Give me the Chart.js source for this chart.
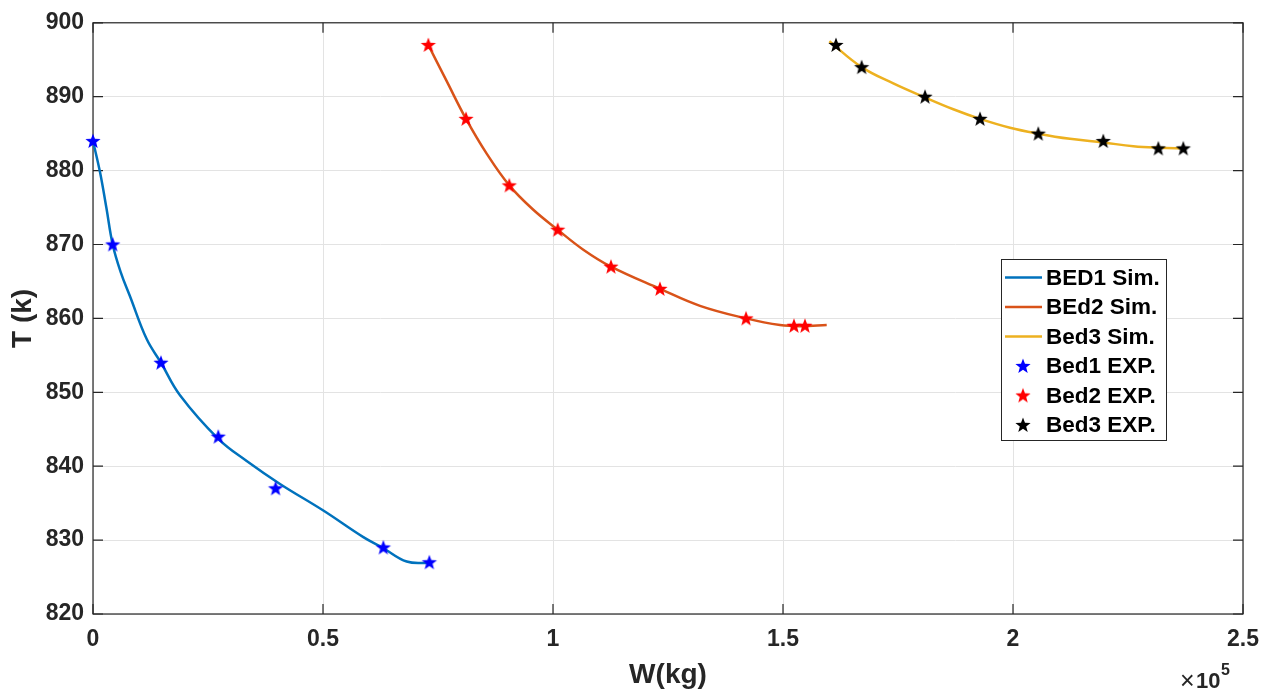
<!DOCTYPE html>
<html>
<head>
<meta charset="utf-8">
<script src="https://cdn.jsdelivr.net/npm/chart.js@4.4.1/dist/chart.umd.min.js"></script>
<style>
  html, body { margin: 0; padding: 0; background: #ffffff; }
  #wrap { width: 1271px; height: 692px; position: relative; }
</style>
</head>
<body>
<div id="wrap"><canvas id="c" width="1271" height="692"></canvas></div>
<script>
// ---------- data ----------
const bed1SimW = [0, 1520, 2900, 4280, 6000, 8040, 11670, 14780, 18910, 27240, 33410, 40650, 50070, 58770, 63120, 68190, 73000];
const bed1SimT = [884, 879.8, 875.0, 870, 866.3, 863.0, 857.2, 854, 849.6, 843.7, 840.7, 837.6, 834.0, 830.4, 828.9, 827.1, 826.9];

const bed2SimW = [72900, 76890, 81090, 85580, 90500, 95720, 101020, 106590, 112600, 123260, 131960, 141960, 149350, 154000, 159500];
const bed2SimT = [897, 892.1, 887, 882.3, 878, 874.7, 872, 869.3, 867, 864, 861.7, 860, 859.1, 858.95, 859.1];

const bed3SimW = [160070, 167100, 173980, 180870, 187020, 192830, 199350, 205500, 212390, 219630, 226160, 231590, 237700];
const bed3SimT = [897.5, 894, 891.8, 889.9, 888.3, 887, 885.8, 885, 884.3, 883.8, 883.3, 883.1, 883.0];

const bed1ExpW = [0, 4280, 14780, 27240, 39700, 63120, 73120];
const bed1ExpT = [884, 870, 854, 844, 837, 829, 827];

const bed2ExpW = [72900, 81090, 90500, 101020, 112600, 123260, 141960, 152390, 154780];
const bed2ExpT = [897, 887, 878, 872, 867, 864, 860, 859, 859];

const bed3ExpW = [161520, 167100, 180870, 192830, 205500, 219630, 231590, 237020];
const bed3ExpT = [897, 894, 890, 887, 885, 884, 883, 883];

const seriesLabels = ['BED1 Sim.', 'BEd2 Sim.', 'Bed3 Sim.', 'Bed1 EXP.', 'Bed2 EXP.', 'Bed3 EXP.'];
const xTickValues = [0, 50000, 100000, 150000, 200000, 250000];
const xTickLabels = ['0', '0.5', '1', '1.5', '2', '2.5'];
const yTickValues = [820, 830, 840, 850, 860, 870, 880, 890, 900];

// ---------- helpers ----------
const FONT = '"Liberation Sans", Arial, Helvetica, sans-serif';
function pts(xs, ys) { return xs.map((x, i) => ({ x: x, y: ys[i] })); }

function starImage(color, R) {
  const s = Math.ceil(R * 2 + 2);
  const cv = document.createElement('canvas');
  cv.width = s; cv.height = s;
  const g = cv.getContext('2d');
  const cx = s / 2, cy = s / 2 + 0.5, r = R * 0.42;
  g.beginPath();
  for (let i = 0; i < 10; i++) {
    const rad = (i % 2 === 0) ? R : r;
    const a = -Math.PI / 2 + i * Math.PI / 5;
    const px = cx + rad * Math.cos(a), py = cy + rad * Math.sin(a);
    if (i === 0) g.moveTo(px, py); else g.lineTo(px, py);
  }
  g.closePath();
  g.fillStyle = color;
  g.fill();
  return cv;
}

const simColors = ['#0072BD', '#D95319', '#EDB120'];
const expColors = ['#0000FF', '#FF0000', '#000000'];
const stars = expColors.map(c => starImage(c, 8));

function simDS(label, data, color) {
  return {
    label: label, data: data, showLine: true, borderColor: color, backgroundColor: color,
    borderWidth: 2.5, pointRadius: 0, pointHoverRadius: 0,
    tension: 0.4, order: 2, clip: false
  };
}
function expDS(label, data, img, color) {
  return {
    label: label, data: data, showLine: false, pointStyle: img,
    borderColor: color, backgroundColor: color, pointRadius: 8, order: 1, clip: false
  };
}

// ---------- plugins ----------
const boxPlugin = {
  id: 'boxPlugin',
  beforeDatasetsDraw(chart) {
    const { ctx, chartArea: a, scales } = chart;
    ctx.save();
    ctx.strokeStyle = '#262626';
    ctx.lineWidth = 1.2;
    ctx.strokeRect(a.left, a.top, a.right - a.left, a.bottom - a.top);
    const tl = 10;
    ctx.beginPath();
    xTickValues.forEach(v => {
      const x = scales.x.getPixelForValue(v);
      ctx.moveTo(x, a.bottom); ctx.lineTo(x, a.bottom - tl);
      ctx.moveTo(x, a.top); ctx.lineTo(x, a.top + tl);
    });
    yTickValues.forEach(v => {
      const y = scales.y.getPixelForValue(v);
      ctx.moveTo(a.left, y); ctx.lineTo(a.left + tl, y);
      ctx.moveTo(a.right, y); ctx.lineTo(a.right - tl, y);
    });
    ctx.stroke();
    ctx.restore();
  },
  afterDraw(chart) {
    const { ctx } = chart;
    ctx.save();
    ctx.fillStyle = '#262626';
    ctx.textBaseline = 'alphabetic';
    ctx.textAlign = 'left';
    ctx.font = '25px ' + FONT;
    ctx.fillText('\u00d7', 1180, 689);
    ctx.font = 'bold 22px ' + FONT;
    ctx.fillText('10', 1196, 688);
    ctx.font = 'bold 16px ' + FONT;
    ctx.fillText('5', 1221, 675);
    ctx.restore();

    // legend
    const L = { x: 1001, y: 259, w: 165, h: 181, rowY0: 277.5, rowH: 29.5 };
    ctx.save();
    ctx.fillStyle = '#ffffff';
    ctx.fillRect(L.x, L.y, L.w, L.h);
    ctx.strokeStyle = '#262626';
    ctx.lineWidth = 1;
    ctx.strokeRect(L.x + 0.5, L.y + 0.5, L.w, L.h);
    chart.data.datasets.forEach((ds, i) => {
      const y = L.rowY0 + i * L.rowH;
      if (ds.showLine) {
        ctx.strokeStyle = ds.borderColor;
        ctx.lineWidth = 2.5;
        ctx.beginPath();
        ctx.moveTo(1005, y); ctx.lineTo(1042, y);
        ctx.stroke();
      } else {
        const img = ds.pointStyle;
        ctx.drawImage(img, 1023 - img.width / 2, y - img.height / 2);
      }
      ctx.fillStyle = '#000000';
      ctx.font = 'bold 22.5px ' + FONT;
      ctx.textBaseline = 'middle';
      ctx.textAlign = 'left';
      ctx.fillText(ds.label, 1046, y + 1);
    });
    ctx.restore();
  }
};

// ---------- chart ----------
new Chart(document.getElementById('c'), {
  type: 'scatter',
  data: {
    datasets: [
      simDS(seriesLabels[0], pts(bed1SimW, bed1SimT), simColors[0]),
      simDS(seriesLabels[1], pts(bed2SimW, bed2SimT), simColors[1]),
      simDS(seriesLabels[2], pts(bed3SimW, bed3SimT), simColors[2]),
      expDS(seriesLabels[3], pts(bed1ExpW, bed1ExpT), stars[0], expColors[0]),
      expDS(seriesLabels[4], pts(bed2ExpW, bed2ExpT), stars[1], expColors[1]),
      expDS(seriesLabels[5], pts(bed3ExpW, bed3ExpT), stars[2], expColors[2])
    ]
  },
  options: {
    responsive: false,
    animation: false,
    devicePixelRatio: 1,
    layout: { padding: { top: 18, right: 28, left: 0, bottom: 0 } },
    plugins: { legend: { display: false }, tooltip: { enabled: false } },
    scales: {
      x: {
        type: 'linear', min: 0, max: 250000,
        afterFit: s => { s.height = 78; },
        afterBuildTicks: s => { s.ticks = xTickValues.map(v => ({ value: v })); },
        ticks: {
          padding: 12, color: '#262626', maxRotation: 0,
          font: { family: FONT, size: 23, weight: 'bold' },
          callback: (v) => { const i = xTickValues.indexOf(v); return i >= 0 ? xTickLabels[i] : ''; }
        },
        grid: { color: '#e3e3e3', lineWidth: 1, drawTicks: false },
        border: { display: false },
        title: {
          display: true, text: 'W(kg)', color: '#262626',
          font: { family: FONT, size: 28, weight: 'bold' }, padding: { top: 0, bottom: 0 }
        }
      },
      y: {
        type: 'linear', min: 820, max: 900,
        afterFit: s => { s.width = 93; },
        afterBuildTicks: s => { s.ticks = yTickValues.map(v => ({ value: v })); },
        ticks: {
          padding: 9, color: '#262626',
          font: { family: FONT, size: 23, weight: 'bold' }
        },
        grid: { color: '#e3e3e3', lineWidth: 1, drawTicks: false },
        border: { display: false },
        title: {
          display: true, text: 'T (k)', color: '#262626',
          font: { family: FONT, size: 28, weight: 'bold' }, padding: { top: 6, bottom: 0 }
        }
      }
    }
  },
  plugins: [boxPlugin]
});
</script>
</body>
</html>
